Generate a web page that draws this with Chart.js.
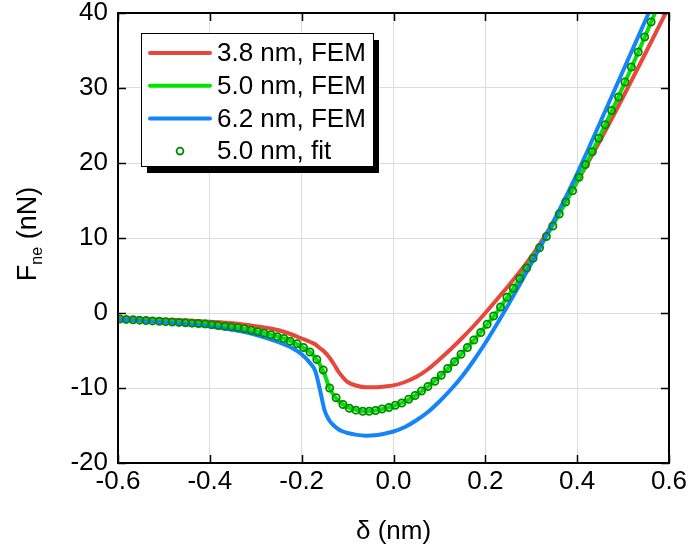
<!DOCTYPE html>
<html>
<head>
<meta charset="utf-8">
<script src="https://cdn.jsdelivr.net/npm/chart.js@4.4.1/dist/chart.umd.min.js"></script>
<style>
  html, body { margin: 0; padding: 0; background: #fff; }
  #wrap { width: 691px; height: 552px; }
</style>
</head>
<body>
<div id="wrap"><canvas id="c" width="691" height="552"></canvas></div>
<script>
// x positions shared by the three FEM curves (nm)
const xFem = [-0.6, -0.55, -0.5, -0.45, -0.4, -0.35, -0.3, -0.25, -0.22, -0.2,
  -0.18, -0.17, -0.16, -0.15, -0.14, -0.13, -0.12, -0.11, -0.1, -0.08,
  -0.06, -0.04, -0.02, 0, 0.025, 0.05, 0.075, 0.1, 0.125, 0.15,
  0.175, 0.2, 0.225, 0.25, 0.3, 0.35, 0.4, 0.45, 0.5, 0.55, 0.6];

// F_ne (nN)
const fem38 = [-0.7, -0.8, -0.9, -1.0, -1.15, -1.35, -1.75, -2.3, -2.9, -3.4,
  -3.9, -4.2, -4.7, -5.2, -5.9, -6.8, -7.8, -8.6, -9.2, -9.7,
  -9.9, -9.9, -9.8, -9.65, -9.2, -8.5, -7.5, -6.2, -4.8, -3.3,
  -1.7, 0.0, 1.8, 3.6, 7.5, 12.3, 17.5, 23.0, 28.8, 34.8, 40.9];
const fem50 = [-0.8, -0.95, -1.1, -1.3, -1.5, -1.85, -2.4, -3.2, -3.85, -4.5,
  -5.3, -6.0, -6.9, -8.2, -9.9, -11.0, -11.7, -12.2, -12.55, -12.95,
  -13.1, -13.0, -12.75, -12.4, -11.8, -10.9, -9.8, -8.5, -7.0, -5.3,
  -3.6, -1.8, 0.1, 2.3, 6.9, 12.0, 17.6, 23.7, 30.2, 37.2, 44.5];
const fem62 = [-0.9, -1.05, -1.25, -1.5, -1.8, -2.25, -2.9, -3.9, -4.7, -5.5,
  -6.8, -7.8, -10.3, -13.0, -14.3, -15.0, -15.5, -15.8, -16.0, -16.25,
  -16.35, -16.3, -16.1, -15.8, -15.2, -14.3, -13.2, -11.8, -10.2, -8.4,
  -6.3, -4.0, -1.5, 1.1, 6.6, 12.4, 18.6, 25.4, 32.3, 39.2, 46.1];

// 5.0 nm fit markers
const xFit = [-0.596, -0.582, -0.567, -0.553, -0.539, -0.525, -0.510, -0.496, -0.482, -0.467,
  -0.453, -0.439, -0.425, -0.410, -0.396, -0.382, -0.367, -0.353, -0.339, -0.325,
  -0.310, -0.296, -0.282, -0.267, -0.253, -0.239, -0.225, -0.210, -0.196, -0.182,
  -0.167, -0.153, -0.139, -0.125, -0.110, -0.096, -0.082, -0.067, -0.053, -0.039,
  -0.025, -0.010, 0.004, 0.018, 0.033, 0.047, 0.061, 0.075, 0.090, 0.104,
  0.118, 0.133, 0.147, 0.161, 0.175, 0.190, 0.204, 0.218, 0.233, 0.247,
  0.261, 0.275, 0.290, 0.304, 0.318, 0.333, 0.347, 0.361, 0.375, 0.390,
  0.404, 0.418, 0.433, 0.447, 0.461, 0.475, 0.490, 0.504, 0.518, 0.533,
  0.547, 0.561];
const fit50 = [-0.8, -0.85, -0.9, -0.95, -1.0, -1.05, -1.1, -1.15, -1.2, -1.25,
  -1.3, -1.35, -1.4, -1.45, -1.55, -1.65, -1.75, -1.85, -1.95, -2.1,
  -2.3, -2.5, -2.7, -2.9, -3.15, -3.4, -3.75, -4.1, -4.6, -5.2,
  -6.2, -7.6, -10.0, -11.3, -12.2, -12.7, -12.95, -13.1, -13.1, -13.0,
  -12.8, -12.6, -12.3, -12.0, -11.5, -11.0, -10.4, -9.8, -9.1, -8.3,
  -7.4, -6.5, -5.5, -4.6, -3.6, -2.6, -1.5, -0.4, 0.8, 2.1,
  3.3, 4.6, 6.0, 7.3, 8.7, 10.2, 11.6, 13.2, 14.8, 16.3,
  18.1, 19.8, 21.5, 23.3, 25.1, 27.0, 28.8, 30.8, 32.8, 34.8,
  36.8, 38.8];

const seriesLabels = ['3.8 nm, FEM', '5.0 nm, FEM', '6.2 nm, FEM', '5.0 nm, fit'];
const seriesColors = ['#e9463e', '#00e400', '#1484fa', '#008a00'];

const FONT = '"Liberation Sans", Arial, sans-serif';
const pts = (xs, ys) => xs.map((x, i) => ({ x: x, y: ys[i] }));

function femSet(i, ys, order) {
  return {
    label: seriesLabels[i],
    data: pts(xFem, ys),
    borderColor: seriesColors[i],
    backgroundColor: seriesColors[i],
    borderWidth: 4,
    pointRadius: 0,
    cubicInterpolationMode: 'monotone',
    order: order
  };
}

// frame with inward ticks, legend box and axis titles
const decor = {
  id: 'decor',
  afterDraw(chart) {
    const ctx = chart.ctx;
    const a = chart.chartArea;
    const xs = chart.scales.x, ys = chart.scales.y;
    ctx.save();

    // ticks pointing inward on all four sides
    ctx.strokeStyle = '#000';
    ctx.lineWidth = 1.5;
    ctx.beginPath();
    xs.ticks.forEach(t => {
      const px = Math.round(xs.getPixelForValue(t.value)) + 0.5;
      ctx.moveTo(px, a.bottom); ctx.lineTo(px, a.bottom - 8);
      ctx.moveTo(px, a.top); ctx.lineTo(px, a.top + 8);
    });
    ys.ticks.forEach(t => {
      const py = Math.round(ys.getPixelForValue(t.value)) + 0.5;
      ctx.moveTo(a.left, py); ctx.lineTo(a.left + 8, py);
      ctx.moveTo(a.right, py); ctx.lineTo(a.right - 8, py);
    });
    ctx.stroke();
    ctx.lineWidth = 2;
    ctx.strokeRect(a.left, a.top, a.right - a.left, a.bottom - a.top);

    // legend
    const bx = 141, by = 33, bw = 232, bh = 133;
    ctx.fillStyle = '#000';
    ctx.fillRect(bx + 6, by + 7, bw, bh);
    ctx.fillStyle = '#fff';
    ctx.fillRect(bx, by, bw, bh);
    ctx.lineWidth = 1;
    ctx.strokeRect(bx + 0.5, by + 0.5, bw, bh);
    ctx.font = '26px ' + FONT;
    ctx.textBaseline = 'middle';
    ctx.textAlign = 'left';
    seriesLabels.forEach((lab, i) => {
      const ry = 53 + i * 32.7;
      if (i < 3) {
        ctx.strokeStyle = seriesColors[i];
        ctx.lineWidth = 4;
        ctx.lineCap = 'round';
        ctx.beginPath();
        ctx.moveTo(150, ry); ctx.lineTo(210, ry);
        ctx.stroke();
      } else {
        ctx.strokeStyle = seriesColors[i];
        ctx.lineWidth = 1.8;
        ctx.beginPath();
        ctx.arc(180, ry, 3.4, 0, Math.PI * 2);
        ctx.stroke();
      }
      ctx.fillStyle = '#000';
      ctx.fillText(lab, 217, ry + 1);
    });

    // x title
    ctx.textAlign = 'center';
    ctx.fillText('\u03b4 (nm)', (a.left + a.right) / 2, 532);

    // y title with subscript, rotated
    ctx.translate(36, 234);
    ctx.rotate(-Math.PI / 2);
    ctx.textBaseline = 'alphabetic';
    ctx.textAlign = 'left';
    const big = '27px ' + FONT, small = '16px ' + FONT;
    ctx.font = big;
    const wF = ctx.measureText('F').width;
    const wRest = ctx.measureText(' (nN)').width;
    ctx.font = small;
    const wSub = ctx.measureText('ne').width;
    let x = -(wF + wSub + wRest) / 2;
    ctx.font = big; ctx.fillText('F', x, 0); x += wF;
    ctx.font = small; ctx.fillText('ne', x, 6); x += wSub;
    ctx.font = big; ctx.fillText(' (nN)', x, 0);
    ctx.restore();
  }
};

new Chart(document.getElementById('c'), {
  type: 'line',
  data: {
    datasets: [
      femSet(0, fem38, 4),
      femSet(1, fem50, 3),
      femSet(2, fem62, 2),
      {
        label: seriesLabels[3],
        data: pts(xFit, fit50),
        showLine: false,
        pointRadius: 3.6,
        pointBorderWidth: 1.8,
        pointBorderColor: seriesColors[3],
        pointBackgroundColor: 'rgba(0,0,0,0)',
        order: 1
      }
    ]
  },
  options: {
    responsive: false,
    animation: false,
    devicePixelRatio: 1,
    layout: { padding: { top: 13, right: 22, left: 0, bottom: 0 } },
    plugins: { legend: { display: false }, tooltip: { enabled: false } },
    scales: {
      x: {
        type: 'linear', min: -0.6, max: 0.6,
        afterFit(s) { s.height = 89; s.paddingLeft = 0; s.paddingRight = 0; },
        border: { display: false },
        grid: { color: '#dcdcdc', lineWidth: 1, drawTicks: false },
        ticks: {
          stepSize: 0.2, padding: 3, maxRotation: 0, autoSkip: false,
          color: '#000', font: { family: FONT, size: 26 },
          callback: v => (Math.abs(v) < 1e-9 ? 0 : v).toFixed(1)
        }
      },
      y: {
        type: 'linear', min: -20, max: 40,
        afterFit(s) { s.width = 118; s.paddingTop = 0; s.paddingBottom = 0; },
        border: { display: false },
        grid: { color: '#dcdcdc', lineWidth: 1, drawTicks: false },
        ticks: {
          stepSize: 10, padding: 10,
          color: '#000', font: { family: FONT, size: 26 }
        }
      }
    }
  },
  plugins: [decor]
});
</script>
</body>
</html>
